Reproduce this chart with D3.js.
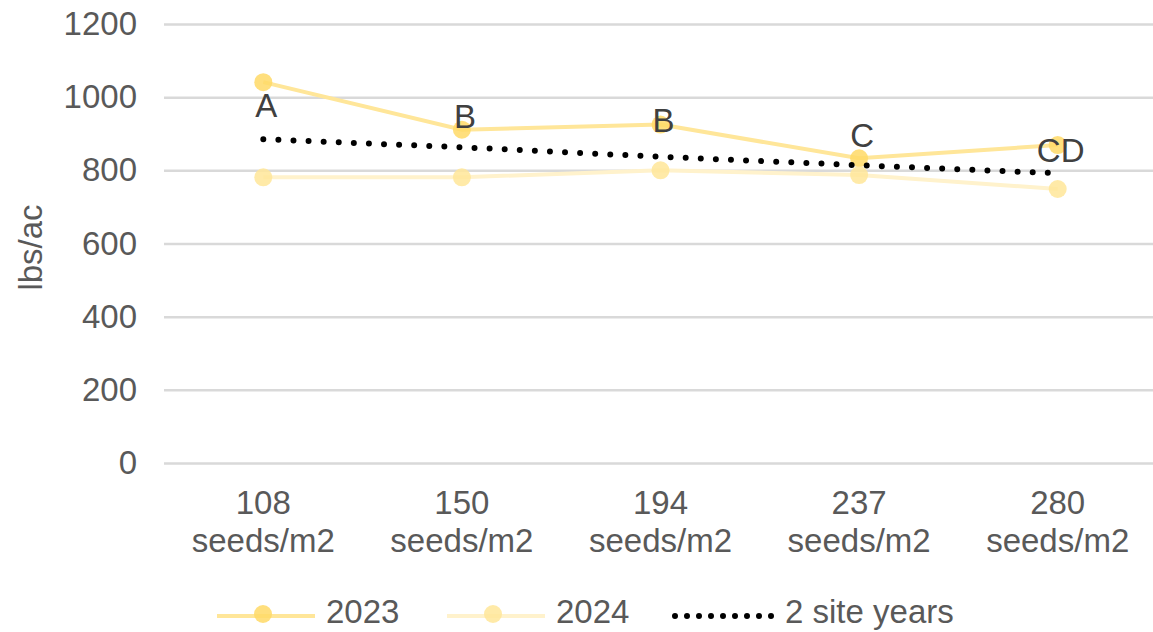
<!DOCTYPE html>
<html>
  <head>
    <meta charset="utf-8">
    <script src="https://d3js.org/d3.v7.min.js"></script>
    <title>Seeding rate yield</title>
    <style>
      body { margin: 0px; background: #fff; }
      text { font-family: 'Liberation Sans', Arial, sans-serif; }
      .tick text { fill: #595959; font-size: 33px; }
      .domain { display: none; }
    </style>
  </head>
  <body>
    <svg width="1153" height="632"></svg>
    <script>
      const rates = ['108', '150', '194', '237', '280'];
      const yield2023 = [1041, 911, 925, 833, 869];
      const yield2024 = [781, 781, 800, 787, 749];
      const yieldBoth = [885, 863, 837, 814, 792];
      const letters = ['A', 'B', 'B', 'C', 'CD'];
      const yTicks = [0, 200, 400, 600, 800, 1000, 1200];

      const svg = d3.select('svg');
      const margin = { left: 164, top: 24, bottom: 169 };
      const width = +svg.attr('width');
      const height = +svg.attr('height');
      const innerWidth = 993;
      const gridWidth = width - margin.left;
      const innerHeight = height - margin.top - margin.bottom;

      const g = svg.append('g')
          .attr('transform', `translate(${margin.left},${margin.top})`);

      const x = d3.scaleBand().domain(rates).range([0, innerWidth]);
      const y = d3.scaleLinear().domain([0, 1200]).range([innerHeight, 0]);
      const cx = d => x(d) + x.bandwidth() / 2;

      // gridlines + y labels
      g.append('g')
          .call(d3.axisLeft(y).tickValues(yTicks).tickFormat(d3.format('d'))
            .tickSize(-gridWidth).tickPadding(27))
          .call(s => s.selectAll('.tick line').attr('stroke', '#d9d9d9').attr('stroke-width', 2.5));

      // x labels on two lines
      const xAxisG = g.append('g')
          .attr('transform', `translate(0,${innerHeight})`)
          .call(d3.axisBottom(x).tickSize(0));
      xAxisG.selectAll('.tick text').remove();
      xAxisG.selectAll('.tick').append('text')
          .attr('y', 51).text(d => d);
      xAxisG.selectAll('.tick').append('text')
          .attr('y', 89).text('seeds/m2');
      xAxisG.selectAll('.tick text').attr('text-anchor', 'middle');

      svg.append('text')
          .attr('transform', `translate(42,${margin.top + innerHeight / 2 + 4}) rotate(-90)`)
          .attr('text-anchor', 'middle')
          .attr('fill', '#595959')
          .attr('font-size', 33)
          .text('lbs/ac');

      const line = d3.line().x((d, i) => cx(rates[i])).y(d => y(d));

      const series = [
        { name: '2023', values: yield2023, line: '#FFE699', dot: '#FFD966', dotOpacity: 0.85 },
        { name: '2024', values: yield2024, line: '#FFF2CC', dot: '#FFE699', dotOpacity: 0.85 }
      ];

      series.forEach(s => {
        g.append('path')
            .datum(s.values)
            .attr('d', line)
            .attr('fill', 'none')
            .attr('stroke', s.line)
            .attr('stroke-width', 4);
        g.selectAll(null).data(s.values)
          .enter().append('circle')
            .attr('cx', (d, i) => cx(rates[i]))
            .attr('cy', d => y(d))
            .attr('r', 9)
            .attr('fill', s.dot)
            .attr('fill-opacity', s.dotOpacity);
      });

      g.append('path')
          .datum(yieldBoth)
          .attr('d', line)
          .attr('fill', 'none')
          .attr('stroke', '#000')
          .attr('stroke-width', 6)
          .attr('stroke-linecap', 'round')
          .attr('stroke-dasharray', '0 15.1');

      // significance letters, baseline offset from the 2-site-year point
      const letterOffset = [-22, -19, -25, -18, -11];
      g.selectAll('.letter').data(letters)
        .enter().append('text')
          .attr('class', 'letter')
          .attr('x', (d, i) => cx(rates[i]) + 3)
          .attr('y', (d, i) => y(yieldBoth[i]) + letterOffset[i])
          .attr('text-anchor', 'middle')
          .attr('fill', '#404040')
          .attr('font-size', 33)
          .text(d => d);

      // legend
      const legend = svg.append('g').attr('transform', 'translate(0,616)');
      const legendItems = [
        { x: 217, label: '2023', s: series[0] },
        { x: 447, label: '2024', s: series[1] }
      ];
      legendItems.forEach(it => {
        legend.append('line')
            .attr('x1', it.x).attr('x2', it.x + 98)
            .attr('stroke', it.s.line).attr('stroke-width', 4);
        legend.append('circle')
            .attr('cx', it.x + 46).attr('cy', -2).attr('r', 9)
            .attr('fill', it.s.dot).attr('fill-opacity', it.s.dotOpacity);
        legend.append('text')
            .attr('x', it.x + 109).attr('y', 7)
            .attr('fill', '#595959').attr('font-size', 33)
            .text(it.label);
      });
      legend.append('line')
          .attr('x1', 675).attr('x2', 771.5)
          .attr('stroke', '#000').attr('stroke-width', 6)
          .attr('stroke-linecap', 'round')
          .attr('stroke-dasharray', '0 12');
      legend.append('text')
          .attr('x', 785).attr('y', 7)
          .attr('fill', '#595959').attr('font-size', 33)
          .text('2 site years');
    </script>
  </body>
</html>
